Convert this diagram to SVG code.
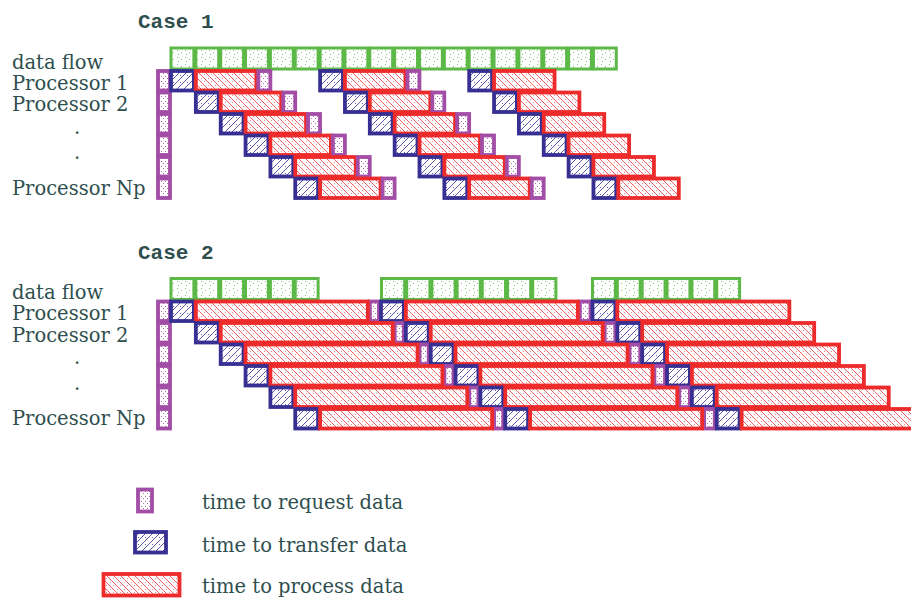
<svg xmlns="http://www.w3.org/2000/svg" width="911" height="598" viewBox="0 0 911 598">
  <defs>
    <!-- fill textures for the four kinds of time slot -->
    <pattern id="flowFill" patternUnits="userSpaceOnUse" width="8" height="7">
      <rect width="8" height="7" fill="#ffffff"/>
      <rect x="1" y="1" width="1" height="1" fill="#7cc86a"/>
      <rect x="5" y="3" width="1" height="1" fill="#7cc86a"/>
      <rect x="2" y="5" width="1" height="1" fill="#7cc86a"/>
    </pattern>
    <pattern id="xferFill" patternUnits="userSpaceOnUse" width="7" height="7">
      <rect width="7" height="7" fill="#ffffff"/>
      <path d="M-1,8 L8,-1 M-1,1 L1,-1 M6,8 L8,6" stroke="#4a43a8" stroke-width="0.9"/>
      <rect x="5" y="5" width="1" height="1" fill="#6a64c0"/>
    </pattern>
    <pattern id="procFill" patternUnits="userSpaceOnUse" width="7" height="7">
      <rect width="7" height="7" fill="#ffffff"/>
      <path d="M-1,-1 L8,8 M6,-1 L8,1 M-1,6 L1,8" stroke="#f04848" stroke-width="0.9"/>
      <rect x="5" y="1" width="1" height="1" fill="#f58a8a"/>
      <rect x="1" y="4" width="1" height="1" fill="#f58a8a"/>
    </pattern>
    <pattern id="reqFill" patternUnits="userSpaceOnUse" width="4" height="5">
      <rect width="4" height="5" fill="#ffffff"/>
      <rect x="1" y="1" width="1" height="1" fill="#b36bb8"/>
      <rect x="3" y="3" width="1" height="1" fill="#b36bb8"/>
    </pattern>
  </defs>
  <style>
    .title { font-family: "Liberation Mono", "DejaVu Sans Mono", monospace; font-weight: bold; font-size: 21px; fill: #2f4f4f; }
    .label { font-family: "DejaVu Serif", "Liberation Serif", serif; font-size: 19.5px; fill: #2f4f4f; }
    .flow { fill: url(#flowFill); stroke: #5cb947; stroke-width: 3; }
    .req  { fill: url(#reqFill);  stroke: #a24da6; stroke-width: 3.8; }
    .xfer { fill: url(#xferFill); stroke: #382f92; stroke-width: 3.8; }
    .proc { fill: url(#procFill); stroke: #ee2b2b; stroke-width: 3.8; }
  </style>

  <rect width="911" height="598" fill="#ffffff"/>

  <!-- ===================== Case 1 ===================== -->
  <g id="case1">
    <text class="title" x="138" y="28">Case 1</text>
    <g id="case1-labels">
      <text class="label" x="12" y="69">data flow</text>
      <text class="label" x="12" y="90">Processor 1</text>
      <text class="label" x="12" y="111">Processor 2</text>
      <text class="label" x="74" y="133.5">.</text>
      <text class="label" x="74" y="158.5">.</text>
      <text class="label" x="12" y="195">Processor Np</text>
    </g>

    <g id="case1-dataflow">
      <rect class="flow" x="171" y="48" width="22.85" height="21"/>
      <rect class="flow" x="195.85" y="48" width="22.85" height="21"/>
      <rect class="flow" x="220.7" y="48" width="22.85" height="21"/>
      <rect class="flow" x="245.55" y="48" width="22.85" height="21"/>
      <rect class="flow" x="270.4" y="48" width="22.85" height="21"/>
      <rect class="flow" x="295.25" y="48" width="22.85" height="21"/>
      <rect class="flow" x="320.1" y="48" width="22.85" height="21"/>
      <rect class="flow" x="344.95" y="48" width="22.85" height="21"/>
      <rect class="flow" x="369.8" y="48" width="22.85" height="21"/>
      <rect class="flow" x="394.65" y="48" width="22.85" height="21"/>
      <rect class="flow" x="419.5" y="48" width="22.85" height="21"/>
      <rect class="flow" x="444.35" y="48" width="22.85" height="21"/>
      <rect class="flow" x="469.2" y="48" width="22.85" height="21"/>
      <rect class="flow" x="494.05" y="48" width="22.85" height="21"/>
      <rect class="flow" x="518.9" y="48" width="22.85" height="21"/>
      <rect class="flow" x="543.75" y="48" width="22.85" height="21"/>
      <rect class="flow" x="568.6" y="48" width="22.85" height="21"/>
      <rect class="flow" x="593.45" y="48" width="22.85" height="21"/>
    </g>

    <!-- initial requests from all processors -->
    <g id="case1-requests">
      <rect class="req" x="158" y="71" width="12" height="19.5"/>
      <rect class="req" x="158" y="92.5" width="12" height="19.5"/>
      <rect class="req" x="158" y="114" width="12" height="19.5"/>
      <rect class="req" x="158" y="135.5" width="12" height="19.5"/>
      <rect class="req" x="158" y="157" width="12" height="19.5"/>
      <rect class="req" x="158" y="178.5" width="12" height="19.5"/>
    </g>

    <g id="case1-p1">
      <rect class="xfer" x="171" y="71" width="22.85" height="19.5"/>
      <rect class="proc" x="195.85" y="71" width="60.5" height="19.5"/>
      <rect class="req" x="258.35" y="71" width="12" height="19.5"/>
      <rect class="xfer" x="320.1" y="71" width="22.85" height="19.5"/>
      <rect class="proc" x="344.95" y="71" width="60.5" height="19.5"/>
      <rect class="req" x="407.45" y="71" width="12" height="19.5"/>
      <rect class="xfer" x="469.2" y="71" width="22.85" height="19.5"/>
      <rect class="proc" x="494.05" y="71" width="60.5" height="19.5"/>
    </g>
    <g id="case1-p2">
      <rect class="xfer" x="195.85" y="92.5" width="22.85" height="19.5"/>
      <rect class="proc" x="220.7" y="92.5" width="60.5" height="19.5"/>
      <rect class="req" x="283.2" y="92.5" width="12" height="19.5"/>
      <rect class="xfer" x="344.95" y="92.5" width="22.85" height="19.5"/>
      <rect class="proc" x="369.8" y="92.5" width="60.5" height="19.5"/>
      <rect class="req" x="432.3" y="92.5" width="12" height="19.5"/>
      <rect class="xfer" x="494.05" y="92.5" width="22.85" height="19.5"/>
      <rect class="proc" x="518.9" y="92.5" width="60.5" height="19.5"/>
    </g>
    <g id="case1-p3">
      <rect class="xfer" x="220.7" y="114" width="22.85" height="19.5"/>
      <rect class="proc" x="245.55" y="114" width="60.5" height="19.5"/>
      <rect class="req" x="308.05" y="114" width="12" height="19.5"/>
      <rect class="xfer" x="369.8" y="114" width="22.85" height="19.5"/>
      <rect class="proc" x="394.65" y="114" width="60.5" height="19.5"/>
      <rect class="req" x="457.15" y="114" width="12" height="19.5"/>
      <rect class="xfer" x="518.9" y="114" width="22.85" height="19.5"/>
      <rect class="proc" x="543.75" y="114" width="60.5" height="19.5"/>
    </g>
    <g id="case1-p4">
      <rect class="xfer" x="245.55" y="135.5" width="22.85" height="19.5"/>
      <rect class="proc" x="270.4" y="135.5" width="60.5" height="19.5"/>
      <rect class="req" x="332.9" y="135.5" width="12" height="19.5"/>
      <rect class="xfer" x="394.65" y="135.5" width="22.85" height="19.5"/>
      <rect class="proc" x="419.5" y="135.5" width="60.5" height="19.5"/>
      <rect class="req" x="482" y="135.5" width="12" height="19.5"/>
      <rect class="xfer" x="543.75" y="135.5" width="22.85" height="19.5"/>
      <rect class="proc" x="568.6" y="135.5" width="60.5" height="19.5"/>
    </g>
    <g id="case1-p5">
      <rect class="xfer" x="270.4" y="157" width="22.85" height="19.5"/>
      <rect class="proc" x="295.25" y="157" width="60.5" height="19.5"/>
      <rect class="req" x="357.75" y="157" width="12" height="19.5"/>
      <rect class="xfer" x="419.5" y="157" width="22.85" height="19.5"/>
      <rect class="proc" x="444.35" y="157" width="60.5" height="19.5"/>
      <rect class="req" x="506.85" y="157" width="12" height="19.5"/>
      <rect class="xfer" x="568.6" y="157" width="22.85" height="19.5"/>
      <rect class="proc" x="593.45" y="157" width="60.5" height="19.5"/>
    </g>
    <g id="case1-pNp">
      <rect class="xfer" x="295.25" y="178.5" width="22.85" height="19.5"/>
      <rect class="proc" x="320.1" y="178.5" width="60.5" height="19.5"/>
      <rect class="req" x="382.6" y="178.5" width="12" height="19.5"/>
      <rect class="xfer" x="444.35" y="178.5" width="22.85" height="19.5"/>
      <rect class="proc" x="469.2" y="178.5" width="60.5" height="19.5"/>
      <rect class="req" x="531.7" y="178.5" width="12" height="19.5"/>
      <rect class="xfer" x="593.45" y="178.5" width="22.85" height="19.5"/>
      <rect class="proc" x="618.3" y="178.5" width="60.5" height="19.5"/>
    </g>
  </g>

  <!-- ===================== Case 2 ===================== -->
  <g id="case2">
    <text class="title" x="138" y="259">Case 2</text>
    <g id="case2-labels">
      <text class="label" x="12" y="299">data flow</text>
      <text class="label" x="12" y="320">Processor 1</text>
      <text class="label" x="12" y="341.5">Processor 2</text>
      <text class="label" x="74" y="363.5">.</text>
      <text class="label" x="74" y="389.5">.</text>
      <text class="label" x="12" y="425">Processor Np</text>
    </g>

    <g id="case2-dataflow">
      <rect class="flow" x="171" y="278.5" width="22.85" height="21"/>
      <rect class="flow" x="195.85" y="278.5" width="22.85" height="21"/>
      <rect class="flow" x="220.7" y="278.5" width="22.85" height="21"/>
      <rect class="flow" x="245.55" y="278.5" width="22.85" height="21"/>
      <rect class="flow" x="270.4" y="278.5" width="22.85" height="21"/>
      <rect class="flow" x="295.25" y="278.5" width="22.85" height="21"/>

      <rect class="flow" x="381.5" y="278.5" width="23.2" height="21"/>
      <rect class="flow" x="406.7" y="278.5" width="23.2" height="21"/>
      <rect class="flow" x="431.9" y="278.5" width="23.2" height="21"/>
      <rect class="flow" x="457.1" y="278.5" width="23.2" height="21"/>
      <rect class="flow" x="482.3" y="278.5" width="23.2" height="21"/>
      <rect class="flow" x="507.5" y="278.5" width="23.2" height="21"/>
      <rect class="flow" x="532.7" y="278.5" width="23.2" height="21"/>

      <rect class="flow" x="592.5" y="278.5" width="22.85" height="21"/>
      <rect class="flow" x="617.35" y="278.5" width="22.85" height="21"/>
      <rect class="flow" x="642.2" y="278.5" width="22.85" height="21"/>
      <rect class="flow" x="667.05" y="278.5" width="22.85" height="21"/>
      <rect class="flow" x="691.9" y="278.5" width="22.85" height="21"/>
      <rect class="flow" x="716.75" y="278.5" width="22.85" height="21"/>
    </g>

    <g id="case2-requests">
      <rect class="req" x="158" y="301.5" width="12" height="19.5"/>
      <rect class="req" x="158" y="323" width="12" height="19.5"/>
      <rect class="req" x="158" y="344.5" width="12" height="19.5"/>
      <rect class="req" x="158" y="366" width="12" height="19.5"/>
      <rect class="req" x="158" y="387.5" width="12" height="19.5"/>
      <rect class="req" x="158" y="409" width="12" height="19.5"/>
    </g>

    <g id="case2-p1">
      <rect class="req" x="369.85" y="301.5" width="9.15" height="19.5"/>
      <rect class="req" x="579.85" y="301.5" width="10.65" height="19.5"/>
      <rect class="xfer" x="171" y="301.5" width="22.85" height="19.5"/>
      <rect class="proc" x="195.85" y="301.5" width="172" height="19.5"/>
      <rect class="xfer" x="381" y="301.5" width="22.85" height="19.5"/>
      <rect class="proc" x="405.85" y="301.5" width="172" height="19.5"/>
      <rect class="xfer" x="592.5" y="301.5" width="22.85" height="19.5"/>
      <rect class="proc" x="617.35" y="301.5" width="172" height="19.5"/>
    </g>
    <g id="case2-p2">
      <rect class="req" x="394.7" y="323" width="9.15" height="19.5"/>
      <rect class="req" x="604.7" y="323" width="10.65" height="19.5"/>
      <rect class="xfer" x="195.85" y="323" width="22.85" height="19.5"/>
      <rect class="proc" x="220.7" y="323" width="172" height="19.5"/>
      <rect class="xfer" x="405.85" y="323" width="22.85" height="19.5"/>
      <rect class="proc" x="430.7" y="323" width="172" height="19.5"/>
      <rect class="xfer" x="617.35" y="323" width="22.85" height="19.5"/>
      <rect class="proc" x="642.2" y="323" width="172" height="19.5"/>
    </g>
    <g id="case2-p3">
      <rect class="req" x="419.55" y="344.5" width="9.15" height="19.5"/>
      <rect class="req" x="629.55" y="344.5" width="10.65" height="19.5"/>
      <rect class="xfer" x="220.7" y="344.5" width="22.85" height="19.5"/>
      <rect class="proc" x="245.55" y="344.5" width="172" height="19.5"/>
      <rect class="xfer" x="430.7" y="344.5" width="22.85" height="19.5"/>
      <rect class="proc" x="455.55" y="344.5" width="172" height="19.5"/>
      <rect class="xfer" x="642.2" y="344.5" width="22.85" height="19.5"/>
      <rect class="proc" x="667.05" y="344.5" width="172" height="19.5"/>
    </g>
    <g id="case2-p4">
      <rect class="req" x="444.4" y="366" width="9.15" height="19.5"/>
      <rect class="req" x="654.4" y="366" width="10.65" height="19.5"/>
      <rect class="xfer" x="245.55" y="366" width="22.85" height="19.5"/>
      <rect class="proc" x="270.4" y="366" width="172" height="19.5"/>
      <rect class="xfer" x="455.55" y="366" width="22.85" height="19.5"/>
      <rect class="proc" x="480.4" y="366" width="172" height="19.5"/>
      <rect class="xfer" x="667.05" y="366" width="22.85" height="19.5"/>
      <rect class="proc" x="691.9" y="366" width="172" height="19.5"/>
    </g>
    <g id="case2-p5">
      <rect class="req" x="469.25" y="387.5" width="9.15" height="19.5"/>
      <rect class="req" x="679.25" y="387.5" width="10.65" height="19.5"/>
      <rect class="xfer" x="270.4" y="387.5" width="22.85" height="19.5"/>
      <rect class="proc" x="295.25" y="387.5" width="172" height="19.5"/>
      <rect class="xfer" x="480.4" y="387.5" width="22.85" height="19.5"/>
      <rect class="proc" x="505.25" y="387.5" width="172" height="19.5"/>
      <rect class="xfer" x="691.9" y="387.5" width="22.85" height="19.5"/>
      <rect class="proc" x="716.75" y="387.5" width="172" height="19.5"/>
    </g>
    <g id="case2-pNp">
      <rect class="req" x="494.1" y="409" width="9.15" height="19.5"/>
      <rect class="req" x="704.1" y="409" width="10.65" height="19.5"/>
      <rect class="xfer" x="295.25" y="409" width="22.85" height="19.5"/>
      <rect class="proc" x="320.1" y="409" width="172" height="19.5"/>
      <rect class="xfer" x="505.25" y="409" width="22.85" height="19.5"/>
      <rect class="proc" x="530.1" y="409" width="172" height="19.5"/>
      <rect class="xfer" x="716.75" y="409" width="22.85" height="19.5"/>
      <rect class="proc" x="741.6" y="409" width="180" height="19.5"/>
    </g>
  </g>

  <!-- ===================== Legend ===================== -->
  <g id="legend">
    <g id="legend-request">
      <rect class="req" x="138" y="489.5" width="14" height="22"/>
      <text class="label" x="202" y="509">time to request data</text>
    </g>
    <g id="legend-transfer">
      <rect class="xfer" x="135" y="532" width="31" height="20.5"/>
      <text class="label" x="202" y="552">time to transfer data</text>
    </g>
    <g id="legend-process">
      <rect class="proc" x="103.5" y="574" width="76" height="21.5"/>
      <text class="label" x="202" y="593">time to process data</text>
    </g>
  </g>
</svg>
